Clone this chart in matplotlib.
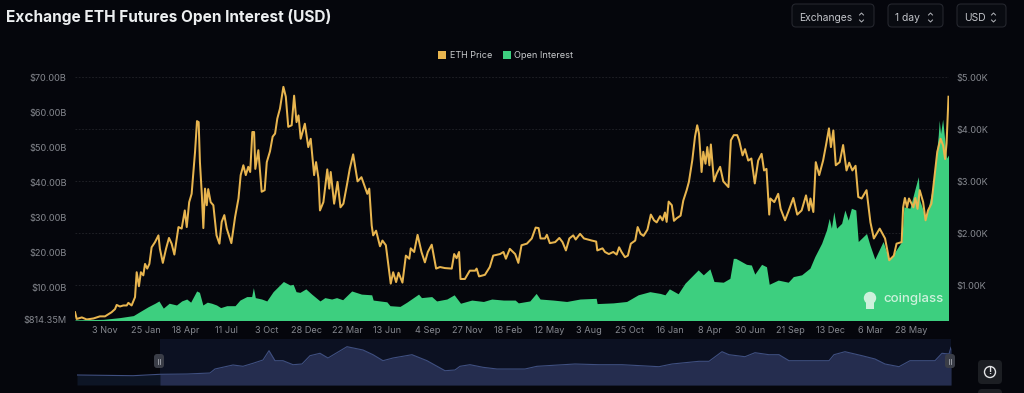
import matplotlib
matplotlib.use("Agg")
import matplotlib.pyplot as plt
from matplotlib.patches import FancyBboxPatch, Rectangle, Circle

price_days = [0,3.5,14,24,38,51,61.5,75,82,85.4,92,99,106,109.3,116,123,126.4,131,135,140,143.5,148,152.4,157,164,171,174,180,186.5,192.6,198,203.6,212,218.6,225,229,234,239,246,250,253.4,256,260,263,266.4,270,273,278,283.5,290,296,300.6,306,311,320.4,328,335,339.5,345,350,355,359,363.4,367,369.5,375.7,382.5,388.7,393,399.6,405,410,414.6,420,427,432,437,
444,449,454,458,462.5,471,478,483,490,494,499,502,509,517,521,524,531,538,544,550,557,563,570,579,587,599,603,608,611,617,625,630,637,647,652,658,663,671,678,685,688,695,702,710,717,723,731,740,748,758,772,777,782,787,790,799,809,820,823,828,840,850,857,871,878,883,891,902,
908.5,915,926,936,944,950,954,963,967,973,984,992.5,999,1006,1013,1021,1026,1035,1043,1059,1068,1070.3,1081,1086,1094,1103,1110,1115,1120,1127,1133,1139,1148,1153,1159,1165,1173,1180,1186.5,1192,1199,1204,1209,1212.4,1216.5,1223,1227.4,1233,1241,1246.5,1253.4,1258,1265,1270.5,1275,1278.7,1284,1287.5,1292,1295.7,1300,1303,1309.4,1315,1322,1328.5,1339,1344,
1350,1357,1361,1368,1373,1379.6,1386,1393,1400,1407,1412,1417,1422.6,1425,1433,1441,1446,1455,1461.5,1472,1480,1489,1498,1504,1507,1513,1518,1525,1533,1539,1545,1549,1554,1559,1567,1574,1581,1586.5,1593,1599.5,1605,1612,1622,1630,1637,1649,1660,1668.5,1678,1683.5,1694,1697,1700.6,1705,1709,1718,1722,1726.5,1731,1738,1743,1748,1755,1760,1767,1773.7,1779,1783,1786,1790]
eth_price = [.48,.35,.38,.34,.36,.40,.40,.48,.54,.62,.59,.61,.61,.66,.61,.77,1.25,.98,1.25,1.19,1.41,1.32,1.41,1.73,1.83,1.96,1.70,1.43,1.70,1.91,1.80,1.59,2.12,2.09,2.44,2.12,2.60,2.76,3.57,4.16,4.14,3.37,2.73,2.10,2.86,2.54,2.85,2.60,2.54,1.96,1.80,2.22,2.35,2.09,1.81,2.31,2.67,3.12,3.31,3.12,3.28,3.18,3.95,3.95,3.24,3.60,2.80,2.83,3.37,3.58,3.86,3.92,4.21,4.40,4.82,4.63,4.05,
4.08,4.65,4.14,4.27,3.82,4.11,3.66,3.82,3.12,3.37,3.05,2.44,2.60,3.23,2.86,3.18,2.57,2.99,2.50,2.57,2.92,3.24,3.52,3.00,3.08,2.76,2.86,2.15,1.96,2.05,1.75,1.86,1.77,1.03,1.25,1.06,1.24,1.05,1.57,1.51,1.71,1.64,1.97,1.64,1.44,1.64,1.78,1.32,1.35,1.33,1.32,1.60,1.52,1.64,1.12,1.12,1.28,1.28,1.32,1.17,1.20,1.35,1.57,1.60,1.64,1.51,1.70,1.60,
1.43,1.77,1.80,1.90,2.11,2.10,1.90,1.90,1.97,1.81,1.83,1.91,1.83,1.67,1.90,1.96,1.88,1.99,1.90,1.86,1.84,1.67,1.71,1.64,1.60,1.64,1.59,1.73,1.64,1.54,1.57,1.80,1.86,2.12,1.99,1.95,2.07,2.36,2.25,2.21,2.33,2.25,2.40,2.22,2.61,2.54,2.24,2.29,2.34,2.63,2.83,2.99,3.41,3.86,4.08,3.92,3.18,3.57,3.34,3.66,3.31,3.71,3.00,3.15,3.28,3.00,2.89,3.79,
3.89,3.89,3.79,3.50,3.62,3.40,3.44,2.96,3.40,3.53,3.21,3.24,2.36,2.67,2.60,2.76,2.47,2.25,2.41,2.68,2.36,2.44,2.73,2.44,2.67,2.41,3.37,3.12,3.40,3.70,4.02,3.66,3.98,3.31,3.37,3.70,3.21,3.36,3.21,3.30,2.70,2.67,2.83,2.21,1.90,2.09,1.90,1.48,1.57,1.80,1.83,2.50,2.68,2.50,2.67,2.50,2.68,2.47,2.83,2.60,2.25,2.44,2.57,2.99,3.57,3.82,3.69,3.43,3.73,4.63]

oi_days = [0,58,92,119.6,133,150,164,172,181,193,208,218.6,229,237,249.3,255,262,271,280,290,298.5,311,328,338,352,362,365.5,369.5,382.5,393,406,427,440.6,
447,453,461,473,485,502,512,526,536,548.5,567,587,608,611,639,645.5,666,680,704,710,731,741,762,777,790,813,837,854,878,902,
908.5,932,945,953,980,1007.5,1035,1068,1070,1103,1130.4,1154,1178,1199,1209,1218,1236,1250,1277,1287.5,1301,1309.4,1328.5,1342,1349,
1354,1376,1386,1393,1407,1417,1422.6,1441,1461.5,1472,1489,1506,1516,1530,1540,1545.5,1550,1555,1560.6,1571,1577.6,1584.5,1591,1600,1605,1622,1629,1639,1656,1668.5,1678,1694,1698.5,1711,1728,1731,1743.6,1758.6,1769,1771,1773.7,1778,1786,1790]
open_interest = [.85,1.0,1.5,2.07,3.2,4.6,5.6,6.25,4.2,5.6,5.1,6.25,6.8,5.9,9.1,8.7,5.1,5.9,5.6,5.1,4.35,4.9,4.9,6.5,7.5,7.5,10.05,7.2,6.8,6.25,8.9,11.8,10.8,
11.0,8.9,8.7,9.7,8.2,6.25,7.2,6.8,7.2,6.6,9.1,8.2,8.0,6.5,6.0,4.9,4.7,5.9,8.2,7.2,7.5,6.25,6.8,8.0,5.6,6.5,6.1,6.8,6.5,6.5,
5.7,6.25,8.4,6.8,6.5,6.1,6.8,7.0,5.5,5.7,6.1,8.0,8.9,8.4,8.0,9.7,8.3,11.3,15.1,13.7,15.4,11.8,11.6,12.7,18.4,
18.4,16.7,16.5,13.9,16.7,16.0,11.0,12.2,11.6,13.2,13.7,15.6,18.9,22.7,26.5,29.8,27,31.7,27,28.4,32.2,29.3,32.7,32.2,23.2,25.5,22.2,18.2,23.2,18.0,19.8,23.2,33.1,32.7,41.7,35,29.8,39.3,53.6,57.8,54,58.1,47,47.9]

nav_pos = [0,56,83,110,133,138,156,166,176,186,192,198,206,216,225,233,243,251,270,286,296,306,316,335,350,368,378,383,393,406,420,435,448,460,498,522,545,582,595,622,632,645,652,668,678,692,702,712,728,752,757,768,785,798,808,822,833,858,865,872,874]
nav_val = [10,9.3,10.7,11,12,16,20,18.7,21.7,25,34.3,24.3,24.3,20.3,21,29.3,31.7,27,38.3,35,30.3,24.3,27,30.3,24.3,14.3,15,18.7,20.3,17.7,16,16,16,18.7,21,20.3,20.3,18.3,21,23.7,23.7,33.3,30.3,28.3,32.3,30.3,30.3,24.3,24.3,24.3,30.3,33.3,29.3,26,21,18.3,24.3,24.3,31.7,31,37.7]

tick_days = [62,145,227,310,392,475,558,640,723,805,888,971,1053,1136,1218,1301,1384,1466,1549,1631,1714]
tick_labels = ["3 Nov","25 Jan","18 Apr","11 Jul","3 Oct","28 Dec","22 Mar","13 Jun","4 Sep","27 Nov","18 Feb","12 May","3 Aug","25 Oct","16 Jan","8 Apr","30 Jun","21 Sep","13 Dec","6 Mar","28 May"]
left_ticks = [0.81435,10,20,30,40,50,60,70]
left_labels = ["$814.35M","$10.00B","$20.00B","$30.00B","$40.00B","$50.00B","$60.00B","$70.00B"]
right_ticks = [1,2,3,4,5]
right_labels = ["$1.00K","$2.00K","$3.00K","$4.00K","$5.00K"]

W, H = 1024, 393
BG = "#05060c"
GOLD = "#e8b54f"
GREEN = "#3dcf7f"
GREY = "#85888f"
plt.rcParams["font.family"] = ["Inter", "DejaVu Sans"]

def box(x0, ytop, x1, ybot):
    return [x0/W, 1-ybot/H, (x1-x0)/W, (ybot-ytop)/H]

fig = plt.figure(figsize=(W/100, H/100), dpi=100, facecolor=BG)

ax = fig.add_axes(box(75, 77.5, 949, 320))
ax.set_facecolor("none")
ax.set_zorder(2)
ax.fill_between(oi_days, open_interest, 0, color=GREEN, lw=0, zorder=2)
ax.set_xlim(0, 1791)
ax.set_ylim(0.81435, 70)
ax.set_xticks(tick_days, tick_labels)
ax.set_yticks(left_ticks, left_labels)
ax.tick_params(length=0, labelcolor=GREY, labelsize=6.6)
ax.tick_params(axis="x", pad=4.5)
ax.tick_params(axis="y", pad=6)
for s in ax.spines.values():
    s.set_visible(False)

# grid layer, below the green area
axg = ax.twinx()
axg.set_zorder(1)
axg.set_facecolor(BG)
axg.set_ylim(0.33, 5)
axg.set_yticks(right_ticks, [""] * len(right_ticks))
axg.tick_params(length=0)
axg.grid(axis="y", color="#23252a", lw=0.6, ls=(0, (2, 2)))
for s in axg.spines.values():
    s.set_visible(False)

ax2 = ax.twinx()
ax2.set_zorder(3)
ax2.set_facecolor("none")
ax2.plot(price_days, eth_price, color=GOLD, lw=1.45, solid_joinstyle="round", zorder=3)
ax2.set_ylim(0.33, 5)
ax2.set_yticks(right_ticks, right_labels)
ax2.tick_params(length=0, labelcolor=GREY, labelsize=6.6, pad=5)
for s in ax2.spines.values():
    s.set_visible(False)

# watermark
ax2.text(0.9935, 0.0865, "coinglass", transform=ax2.transAxes, ha="right", va="center",
         color="#cdf1dc", fontsize=9.5, fontweight="medium", zorder=5)

# navigator
nav = fig.add_axes(box(77, 339, 951, 385))
nav.set_facecolor("#080a14")
nav.axvspan(83, 874, color="#0c1122", lw=0, zorder=1)
nav.fill_between(nav_pos, nav_val, 0, color="#0d1525", lw=0, zorder=2)
sel_x = [p for p in nav_pos if p >= 83]
sel_y = nav_val[nav_pos.index(83):]
nav.fill_between(sel_x, sel_y, 0, color="#252d4f", lw=0, zorder=3)
nav.plot(nav_pos, nav_val, color="#3f4f80", lw=0.8, zorder=4)
nav.set_xlim(0, 874)
nav.set_ylim(0, 46)
nav.axis("off")

# overlay for UI chrome, in pixel coordinates
ui = fig.add_axes([0, 0, 1, 1], zorder=10)
ui.set_xlim(0, W); ui.set_ylim(H, 0); ui.axis("off"); ui.patch.set_alpha(0)

fig.text(6/W, 1-17/H, "Exchange ETH Futures Open Interest (USD)", color="#eceef0",
         fontsize=11.1, fontweight="bold", va="center", ha="left")

def dropdown(x0, x1, label):
    ui.add_patch(FancyBboxPatch((x0+3, 7), x1-x0-6, 17, boxstyle="round,pad=3,rounding_size=4",
                                fc="#090b11", ec="#24262d", lw=0.8))
    ui.text(x0+7, 18, label, color="#c3c5ca", fontsize=7.4, va="center", ha="left")
    cx = x1-12.5
    ui.plot([cx-2, cx, cx+2], [15, 13, 15], color="#b5b7bc", lw=0.7)
    ui.plot([cx-2, cx, cx+2], [20, 22, 20], color="#b5b7bc", lw=0.7)

dropdown(792, 874, "Exchanges")
dropdown(888, 943, "1 day")
dropdown(957, 1006, "USD")

# legend
ui.add_patch(Rectangle((437.5, 50.5), 8, 8, fc=GOLD, ec="none"))
ui.text(449.5, 55, "ETH Price", color="#c8cacd", fontsize=6.5, va="center", ha="left")
ui.add_patch(Rectangle((503, 50.5), 8, 8, fc=GREEN, ec="none"))
ui.text(514.5, 55, "Open Interest", color="#c8cacd", fontsize=6.6, va="center", ha="left")

# coinglass logo
ui.add_patch(Circle((870, 298), 6.2, fc="#cdf1dc", ec="none"))
ui.add_patch(Rectangle((866, 298), 8, 11, fc="#cdf1dc", ec="none"))

# navigator handles
for cx in (159, 950):
    ui.add_patch(FancyBboxPatch((cx-4, 355), 8, 12, boxstyle="round,pad=1,rounding_size=3",
                                fc="#3a3d47", ec="none"))
    ui.plot([cx-1, cx-1], [358.5, 364], color="#a5a8b0", lw=0.6)
    ui.plot([cx+1, cx+1], [358.5, 364], color="#a5a8b0", lw=0.6)

# alert button
ui.add_patch(FancyBboxPatch((980, 362), 20, 20, boxstyle="round,pad=2,rounding_size=4",
                            fc="#1c1e23", ec="none"))
ui.add_patch(Circle((990, 372), 5.5, fc="none", ec="#e3e4e6", lw=1))
ui.text(990, 372, "!", color="#e3e4e6", fontsize=6.5, fontweight="bold", ha="center", va="center")
ui.add_patch(FancyBboxPatch((980, 391), 20, 10, boxstyle="round,pad=2,rounding_size=4",
                            fc="#1c1e23", ec="none"))

fig.savefig("out.png", dpi=100, facecolor=BG)
